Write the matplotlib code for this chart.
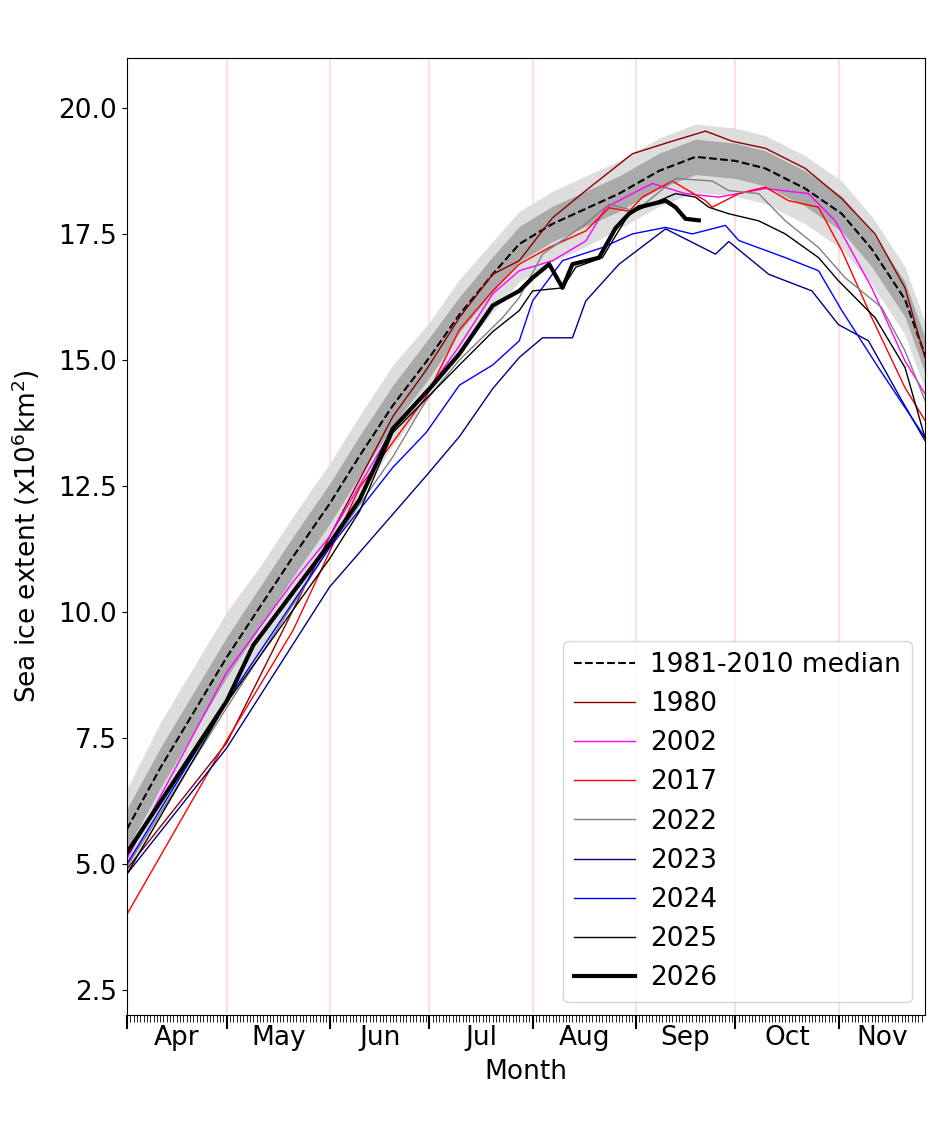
import matplotlib
matplotlib.use("Agg")
import matplotlib.pyplot as plt
import numpy as np

days = [0,10,20,30,40,50,61,70,80,91,100,110,118,128,138,148,160,171,183,192,204,215,224,234,240]
median = [5.69,6.9,8.0,9.1,10.1,11.1,12.15,13.1,14.1,15.05,15.9,16.7,17.3,17.7,18.0,18.3,18.75,19.03,18.95,18.8,18.4,17.9,17.2,16.2,15.1]
iqr_half = [0.4,0.4,0.4,0.4,0.4,0.4,0.4,0.4,0.4,0.4,0.35,0.35,0.35,0.35,0.35,0.35,0.35,0.35,0.35,0.35,0.35,0.35,0.35,0.35,0.35]
range_lo = [0.9,0.9,0.9,0.9,0.9,0.9,0.8,0.8,0.8,0.8,0.75,0.75,0.75,0.75,0.75,0.7,0.7,0.7,0.7,0.7,0.7,0.7,0.7,0.7,0.7]
range_hi = [0.8,0.9,0.9,0.9,0.8,0.8,0.8,0.8,0.8,0.7,0.7,0.65,0.65,0.65,0.65,0.65,0.65,0.65,0.65,0.65,0.65,0.65,0.65,0.65,0.65]

d1980 = [0,30,61,70,80,90,100,110,118,128,138,152,163,174,182,192,204,215,225,234,240]
y1980 = [4.9,7.4,11.5,12.63,13.88,14.8,15.84,16.7,16.97,17.82,18.36,19.09,19.32,19.54,19.34,19.2,18.8,18.2,17.5,16.43,15.05]
d2002 = [0,30,50,61,80,90,100,110,118,128,138,144,152,158,168,178,192,205,213,224,234,240]
y2002 = [5.1,8.8,10.6,11.5,13.64,14.35,15.28,16.31,16.77,16.97,17.36,18.02,18.3,18.5,18.3,18.23,18.4,18.3,17.76,16.43,14.98,14.33]
d2017 = [0,30,50,61,70,90,100,110,118,127,138,145,151,155,164,174,176,184,192,199,208,215,224,234,240]
y2017 = [4.0,7.45,9.64,11.2,12.47,14.27,15.6,16.37,16.9,17.23,17.56,18.02,17.95,18.23,18.55,18.16,18.03,18.3,18.43,18.16,18.03,17.17,15.84,14.45,13.8]
d2022 = [0,30,61,80,90,100,113,118,125,138,145,153,165,176,181,190,198,208,216,227,234,240]
y2022 = [4.95,8.1,11.28,13.08,14.2,15.0,15.84,16.24,17.1,17.7,18.09,17.95,18.6,18.55,18.36,18.3,17.76,17.23,16.63,16.04,15.18,14.2]
d2023 = [0,30,61,90,100,110,118,125,134,138,148,162,177,181,193,206,214,223,233,240]
y2023 = [4.8,7.3,10.5,12.7,13.48,14.43,15.05,15.44,15.44,16.17,16.9,17.6,17.1,17.35,16.7,16.37,15.7,15.38,14.2,13.4]
d2024 = [0,30,61,80,90,100,110,118,122,131,143,152,162,170,180,184,198,208,215,226,240]
y2024 = [5.0,8.23,11.28,12.87,13.56,14.5,14.9,15.38,16.17,16.97,17.23,17.5,17.63,17.5,17.67,17.37,17.03,16.77,15.98,14.85,13.46]
d2025 = [0,30,61,70,80,90,100,110,118,122,131,135,143,151,165,171,175,181,190,198,208,214,225,234,240]
y2025 = [4.8,8.2,11.06,12.0,13.56,14.23,14.9,15.56,15.98,16.37,16.43,16.84,17.03,17.9,18.3,18.23,18.03,17.9,17.76,17.5,17.03,16.57,15.84,14.85,13.46]
d2026 = [0,30,38,61,70,80,91,100,110,118,122,127,131,134,142,147,151,154,162,165,168,172]
y2026 = [5.22,8.23,9.34,11.36,12.23,13.64,14.43,15.12,16.08,16.37,16.63,16.9,16.43,16.9,17.03,17.62,17.9,18.03,18.16,18.03,17.8,17.77]

months = ["Apr","May","Jun","Jul","Aug","Sep","Oct","Nov"]
month_starts = [0,30,61,91,122,153,183,214,240]

fig = plt.figure(figsize=(9.4,11.28), dpi=100)
ax = fig.add_axes([0.135,0.100,0.849,0.849])
med = np.array(median)
ax.fill_between(days, med-np.array(range_lo), med+np.array(range_hi), color="#dddddd", lw=0)
ax.fill_between(days, med-np.array(iqr_half), med+np.array(iqr_half), color="#aaaaaa", lw=0)
for m in month_starts[1:-1]:
    ax.axvline(m, color="#ffd8d8", lw=1.2, zorder=0.5)
ax.plot(days, median, "k--", lw=1.5, label="1981-2010 median")
for d, y, c, lab in [(d1980,y1980,"#8b0000","1980"),(d2002,y2002,"magenta","2002"),(d2017,y2017,"red","2017"),
                     (d2022,y2022,"gray","2022"),(d2023,y2023,"navy","2023"),(d2024,y2024,"blue","2024"),
                     (d2025,y2025,"black","2025")]:
    ax.plot(d, y, color=c, lw=1, label=lab)
ax.plot(d2026, y2026, color="black", lw=3, label="2026")
ax.set_xlim(0,240)
ax.set_ylim(2.0,21.0)
ax.set_yticks([2.5,5.0,7.5,10.0,12.5,15.0,17.5,20.0])
ax.set_yticklabels(["2.5","5.0","7.5","10.0","12.5","15.0","17.5","20.0"], fontsize=19)
ax.set_xticks(month_starts[:-1])
ax.set_xticklabels([])
ax.set_xticks(np.arange(0,240), minor=True)
ax.tick_params(axis="x", which="major", length=10, width=1.5)
ax.tick_params(axis="x", which="minor", length=5)
for i,mn in enumerate(months):
    ax.text((month_starts[i]+month_starts[i+1])/2, -0.01, mn, transform=ax.get_xaxis_transform(),
            ha="center", va="top", fontsize=19)
ax.set_xlabel("Month", fontsize=19, labelpad=18)
ax.set_ylabel("Sea ice extent (x10$^6$km$^2$)", fontsize=19, labelpad=12)
ax.legend(loc="lower right", fontsize=19, handlelength=2.3, handletextpad=0.6)
fig.savefig("out.png", dpi=100)
